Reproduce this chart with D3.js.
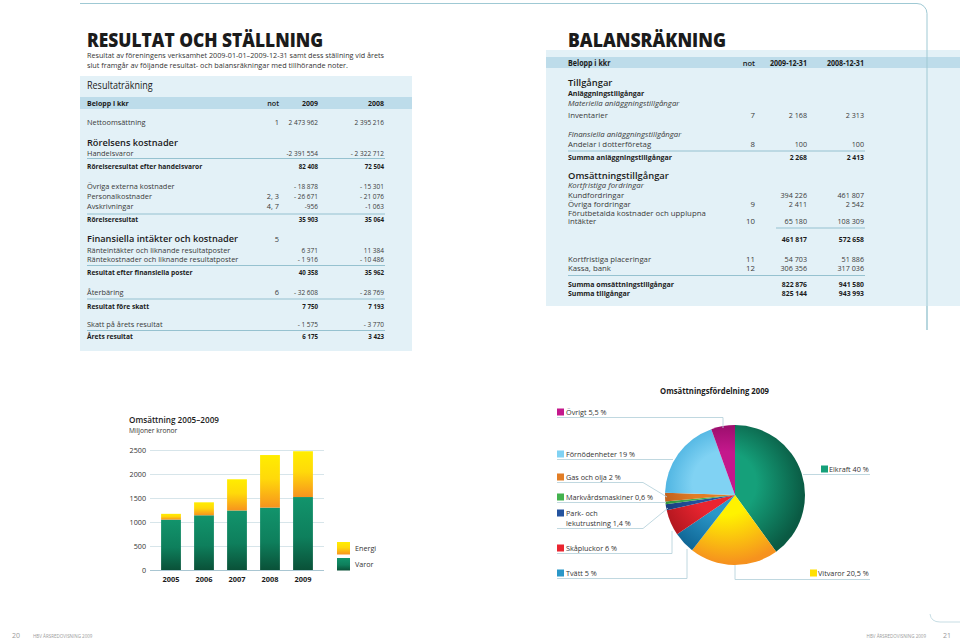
<!DOCTYPE html>
<html><head><meta charset="utf-8">
<script src="https://cdn.jsdelivr.net/npm/d3@7"></script>
<style>
html,body{margin:0;padding:0;background:#fff;}
svg{display:block;font-family:"Open Sans",sans-serif;}
</style></head>
<body>
<svg id="c" width="960" height="644"></svg>
<script>
// ---------- DATA ----------
const resultRows = [
  ["Nettoomsättning","1","2 473 962","2 395 216","n"],
  ["Rörelsens kostnader","","","","h"],
  ["Handelsvaror","","-2 391 554","- 2 322 712","n"],
  ["Rörelseresultat efter handelsvaror","","82 408","72 504","b"],
  ["Övriga externa kostnader","","- 18 878","- 15 301","n"],
  ["Personalkostnader","2, 3","- 26 671","- 21 076","n"],
  ["Avskrivningar","4, 7","-956","-1 063","n"],
  ["Rörelseresultat","","35 903","35 064","b"],
  ["Finansiella intäkter och kostnader","5","","","h"],
  ["Ränteintäkter och liknande resultatposter","","6 371","11 384","n"],
  ["Räntekostnader och liknande resultatposter","","- 1 916","- 10 486","n"],
  ["Resultat efter finansiella poster","","40 358","35 962","b"],
  ["Återbäring","6","- 32 608","- 28 769","n"],
  ["Resultat före skatt","","7 750","7 193","b"],
  ["Skatt på årets resultat","","- 1 575","- 3 770","n"],
  ["Årets resultat","","6 175","3 423","b"]
];
const balanceRows = [
  ["Tillgångar","","","","h"],
  ["Anläggningstillgångar","","","","b"],
  ["Materiella anläggningstillgångar","","","","i"],
  ["Inventarier","7","2 168","2 313","n"],
  ["Finansiella anläggningstillgångar","","","","i"],
  ["Andelar i dotterföretag","8","100","100","n"],
  ["Summa anläggningstillgångar","","2 268","2 413","b"],
  ["Omsättningstillgångar","","","","h"],
  ["Kortfristiga fordringar","","","","i"],
  ["Kundfordringar","","394 226","461 807","n"],
  ["Övriga fordringar","9","2 411","2 542","n"],
  ["Förutbetalda kostnader och upplupna","","","","n"],
  ["intäkter","10","65 180","108 309","n"],
  ["","","461 817","572 658","b"],
  ["Kortfristiga placeringar","11","54 703","51 886","n"],
  ["Kassa, bank","12","306 356","317 036","n"],
  ["Summa omsättningstillgångar","","822 876","941 580","b"],
  ["Summa tillgångar","","825 144","943 993","b"]
];
const years = ["2005","2006","2007","2008","2009"];
const varor = [1050, 1140, 1240, 1300, 1520];
const energi = [120, 270, 650, 1095, 954];
const yTicks = [0, 500, 1000, 1500, 2000, 2500];
const pieLabels = ["Elkraft 40 %","Vitvaror 20,5 %","Tvätt 5 %","Skåpluckor 6 %","Park- och|lekutrustning 1,4 %","Markvårdsmaskiner 0,6 %","Gas och olja 2 %","Förnödenheter 19 %","Övrigt 5,5 %"];
const pieShares = [40, 20.5, 5, 6, 1.4, 0.6, 2, 19, 5.5];
const pieLight = ["#15a07a","#fff200","#2a97c8","#ea2530","#24539f","#43b24e","#e27d25","#80d2f3","#c4188c"];
const pieDark  = ["#0a5a43","#f6921e","#0d6190","#a8141c","#163772","#2a8a37","#b4561a","#3aa8da","#86095c"];

// ---------- DRAW ----------
const svg = d3.select("#c");
const defs = svg.append("defs");
const lineCol = "#8dbccb";
function fit(sel, f){
  if(f===1) return sel;
  const w = sel.node().getComputedTextLength();
  return sel.attr("textLength", w*f).attr("lengthAdjust","spacingAndGlyphs");
}

svg.append("path").attr("d","M80,3.5 H917 A10,10 0 0 1 927,13.5 V330")
  .attr("fill","none").attr("stroke","#9fc9d4").attr("stroke-width",1);

// Titles
svg.append("text").attr("x",87).attr("y",47).attr("font-size",19.5).attr("font-weight",800)
  .attr("fill","#1b1b1b").attr("textLength",236).attr("lengthAdjust","spacingAndGlyphs").text("RESULTAT OCH STÄLLNING");
svg.append("text").attr("x",87).attr("y",57.5).attr("font-size",7.8).attr("fill","#333")
  .attr("textLength",297).attr("lengthAdjust","spacingAndGlyphs")
  .text("Resultat av föreningens verksamhet 2009-01-01–2009-12-31 samt dess ställning vid årets");
svg.append("text").attr("x",87).attr("y",67.5).attr("font-size",7.8).attr("fill","#333")
  .attr("textLength",261).attr("lengthAdjust","spacingAndGlyphs")
  .text("slut framgår av följande resultat- och balansräkningar med tillhörande noter.");

// Left box
svg.append("rect").attr("x",80).attr("y",76).attr("width",332).attr("height",275).attr("fill","#e3f1f7");
fit(svg.append("text").attr("x",87).attr("y",89).attr("font-size",10).attr("fill","#222").text("Resultaträkning"),0.9);
svg.append("rect").attr("x",80).attr("y",97).attr("width",332).attr("height",12).attr("fill","#bddcea");
const lh = svg.append("g").attr("font-size",7.6).attr("font-weight",700).attr("fill","#1b1b1b");
fit(lh.append("text").attr("x",87).attr("y",106).text("Belopp i kkr"),0.92);
fit(lh.append("text").attr("x",279).attr("y",106).attr("text-anchor","end").attr("font-weight",600).text("not"),0.95);
fit(lh.append("text").attr("x",318).attr("y",106).attr("text-anchor","end").text("2009"),0.92);
fit(lh.append("text").attr("x",384).attr("y",106).attr("text-anchor","end").text("2008"),0.92);

const resultY = [125,145.5,155.5,169,189,199,209,222,241.5,253,262,275,295,309,327,339];
const resultLines = [158.5,214,265.5,299,330.5];
function drawRows(rows, ys, cols, fs, hs, numF){
  const g = svg.append("g");
  rows.forEach((r,i)=>{
    const t = r[4];
    const size = t==="h" ? hs : fs;
    const weight = t==="h" ? 600 : (t==="b" ? 700 : 400);
    const fill = (t==="h"||t==="b") ? "#1b1b1b" : "#3a3a3a";
    const style = t==="i" ? "italic" : "normal";
    const lf = t==="b" ? 0.9 : 1;
    const row = g.append("g").attr("font-size",size).attr("font-weight",weight).attr("fill",fill).attr("font-style",style);
    if(r[0]) fit(row.append("text").attr("x",cols[0]).attr("y",ys[i]).text(r[0]), lf);
    if(r[1]) row.append("text").attr("x",cols[1]).attr("y",ys[i]).attr("text-anchor","end").attr("font-weight",400).attr("fill","#3a3a3a").attr("font-size",fs).text(r[1]);
    if(r[2]) fit(row.append("text").attr("x",cols[2]).attr("y",ys[i]).attr("text-anchor","end").text(r[2]), numF*(t==="b"?0.95:1));
    if(r[3]) fit(row.append("text").attr("x",cols[3]).attr("y",ys[i]).attr("text-anchor","end").text(r[3]), numF*(t==="b"?0.95:1));
  });
}
drawRows(resultRows, resultY, [87,279,318,384], 7.4, 9.2, 0.88);
resultLines.forEach(y=>svg.append("line").attr("x1",87).attr("x2",385).attr("y1",y).attr("y2",y).attr("stroke",lineCol).attr("stroke-width",0.9));

// Right page
svg.append("text").attr("x",568).attr("y",47).attr("font-size",19.5).attr("font-weight",800)
  .attr("fill","#1b1b1b").attr("textLength",158).attr("lengthAdjust","spacingAndGlyphs").text("BALANSRÄKNING");
svg.append("rect").attr("x",546).attr("y",50).attr("width",414).attr("height",256).attr("fill","#e3f1f7");
svg.append("rect").attr("x",546).attr("y",57).attr("width",414).attr("height",11).attr("fill","#bddcea");
svg.append("line").attr("x1",927).attr("x2",927).attr("y1",50).attr("y2",330).attr("stroke","#9fc9d4").attr("stroke-width",1);
const rh = svg.append("g").attr("font-size",7.9).attr("font-weight",700).attr("fill","#1b1b1b");
fit(rh.append("text").attr("x",568).attr("y",66).text("Belopp i kkr"),0.9);
fit(rh.append("text").attr("x",755).attr("y",66).attr("text-anchor","end").attr("font-weight",600).text("not"),0.95);
fit(rh.append("text").attr("x",807).attr("y",66).attr("text-anchor","end").text("2009-12-31"),0.9);
fit(rh.append("text").attr("x",864).attr("y",66).attr("text-anchor","end").text("2008-12-31"),0.9);
const balanceY = [86,96,106,118,137,147,160,178.5,188,197.5,206.5,215.5,224,242,262,271,286.5,295.5];
drawRows(balanceRows, balanceY, [568,755,807,864], 7.8, 9.4, 0.92);
svg.append("line").attr("x1",568).attr("x2",865).attr("y1",151).attr("y2",151).attr("stroke",lineCol).attr("stroke-width",0.9);
svg.append("line").attr("x1",776).attr("x2",865).attr("y1",228).attr("y2",228).attr("stroke",lineCol).attr("stroke-width",0.9);
svg.append("line").attr("x1",568).attr("x2",865).attr("y1",275.5).attr("y2",275.5).attr("stroke",lineCol).attr("stroke-width",0.9);

// ---------- BAR CHART ----------
svg.append("text").attr("x",129).attr("y",422.5).attr("font-size",9.6).attr("font-weight",600).attr("fill","#1b1b1b")
  .attr("textLength",90).attr("lengthAdjust","spacingAndGlyphs").text("Omsättning 2005–2009");
fit(svg.append("text").attr("x",129).attr("y",433).attr("font-size",7.4).attr("fill","#333").text("Miljoner kronor"),0.9);

const x = d3.scaleBand().domain(years).range([154.5,319.5]).paddingInner(0.4).paddingOuter(0.2);
const y = d3.scaleLinear().domain([0,2500]).range([570,450]);

const ge = defs.append("linearGradient").attr("id","gEn").attr("x1",0).attr("y1",0).attr("x2",0).attr("y2",1);
ge.append("stop").attr("offset","0").attr("stop-color","#ffed00");
ge.append("stop").attr("offset","0.45").attr("stop-color","#ffd90a");
ge.append("stop").attr("offset","1").attr("stop-color","#f7931e");
const gv = defs.append("linearGradient").attr("id","gVa").attr("x1",0).attr("y1",0).attr("x2",0).attr("y2",1);
gv.append("stop").attr("offset","0").attr("stop-color","#12946c");
gv.append("stop").attr("offset","0.55").attr("stop-color","#0e7f5c");
gv.append("stop").attr("offset","1").attr("stop-color","#0a5138");

svg.append("g").selectAll("line").data(yTicks).join("line")
  .attr("x1",150).attr("x2",324).attr("y1",d=>y(d)+0.5).attr("y2",d=>y(d)+0.5)
  .attr("stroke",d=>d===0?"#a9c6d2":"#d3e2e8").attr("stroke-width",d=>d===0?1.2:0.9);
const yAxis = svg.append("g").attr("transform","translate(146,0)")
  .call(d3.axisLeft(y).tickValues(yTicks).tickSize(0).tickPadding(0).tickFormat(d3.format("d")));
yAxis.select(".domain").remove();
yAxis.selectAll("text").attr("font-family","Open Sans, sans-serif").attr("font-size",7.2).attr("fill","#333");

const bars = svg.append("g");
bars.selectAll("rect.v").data(years).join("rect").attr("class","v")
  .attr("x",d=>x(d)).attr("width",x.bandwidth())
  .attr("y",(d,i)=>y(varor[i])).attr("height",(d,i)=>y(0)-y(varor[i])).attr("fill","url(#gVa)");
bars.selectAll("rect.e").data(years).join("rect").attr("class","e")
  .attr("x",d=>x(d)).attr("width",x.bandwidth())
  .attr("y",(d,i)=>y(varor[i]+energi[i])).attr("height",(d,i)=>y(varor[i])-y(varor[i]+energi[i])).attr("fill","url(#gEn)");

const xAxis = svg.append("g").attr("transform","translate(0,577)")
  .call(d3.axisBottom(x).tickSize(0).tickPadding(0));
xAxis.select(".domain").remove();
xAxis.selectAll("text").attr("font-family","Open Sans, sans-serif").attr("font-size",7.4).attr("font-weight",700).attr("fill","#1b1b1b");

const leg = svg.append("g");
[["Energi","url(#gEn)",542],["Varor","url(#gVa)",558]].forEach(l=>{
  leg.append("rect").attr("x",337).attr("y",l[2]).attr("width",13).attr("height",12.5).attr("fill",l[1]);
  leg.append("text").attr("x",355).attr("y",l[2]+9).attr("font-size",7.2).attr("fill","#333").text(l[0]);
});

// ---------- PIE ----------
svg.append("text").attr("x",660).attr("y",393.5).attr("font-size",8.6).attr("font-weight",700).attr("fill","#1b1b1b")
  .attr("textLength",109).attr("lengthAdjust","spacingAndGlyphs").text("Omsättningsfördelning 2009");
const cx = 735, cy = 495, R = 70;
pieShares.forEach((s,i)=>{
  const g = defs.append("radialGradient").attr("id","pg"+i).attr("gradientUnits","userSpaceOnUse")
    .attr("cx",-6).attr("cy",-8).attr("r",R+6).attr("fx",-14).attr("fy",-14);
  g.append("stop").attr("offset","0").attr("stop-color",pieLight[i]);
  g.append("stop").attr("offset","0.42").attr("stop-color",pieLight[i]);
  g.append("stop").attr("offset","1").attr("stop-color",pieDark[i]);
});
const pie = d3.pie().sort(null).value(d=>d).startAngle(0).endAngle(2*Math.PI);
const arc = d3.arc().innerRadius(0).outerRadius(R);
svg.append("g").attr("transform",`translate(${cx},${cy})`)
  .selectAll("path").data(pie(pieShares)).join("path")
  .attr("d",arc).attr("fill",(d,i)=>"url(#pg"+i+")");

const pieLayout = [
  {sx:821, tx:829, ty:469, path:"M803,474.5 H870"},
  {sx:810, tx:818, ty:573, path:"M735,565 V579.5 H870"},
  {sx:557, tx:566, ty:573, path:"M557,578.5 H687 V549"},
  {sx:557, tx:566, ty:548, path:"M557,553.5 H672 V531"},
  {sx:557, tx:566, ty:513, path:"M557,528.5 H643 L668,508"},
  {sx:557, tx:566, ty:497, path:"M557,502.5 H666"},
  {sx:557, tx:566, ty:477, path:"M557,482.5 H643 L667,497"},
  {sx:557, tx:566, ty:454, path:"M557,459.5 H673"},
  {sx:557, tx:566, ty:412, path:"M557,417.5 H723 V428"}
];
const pl = svg.append("g");
pieLabels.forEach((lab,i)=>{
  const L = pieLayout[i];
  pl.append("path").attr("d",L.path).attr("fill","none").attr("stroke","#b9d4dd").attr("stroke-width",0.9);
  pl.append("rect").attr("x",L.sx).attr("y",L.ty-3.5).attr("width",7).attr("height",7).attr("fill",i===1?"#ffe000":pieLight[i]);
  lab.split("|").forEach((p,k)=>{
    fit(pl.append("text").attr("x",L.tx).attr("y",L.ty+3+k*10).attr("font-size",7.8).attr("fill","#333").text(p),0.93);
  });
});

// ---------- FOOTER ----------
svg.append("path").attr("d","M930,614 Q931,622 940,622 H960").attr("fill","none").attr("stroke","#b9d4dd").attr("stroke-width",0.8);
const ft = svg.append("g").attr("fill","#9a9a9a");
ft.append("text").attr("x",12).attr("y",638).attr("font-size",7).text("20");
ft.append("text").attr("x",33).attr("y",638).attr("font-size",4.5).text("HBV ÅRSREDOVISNING 2009");
ft.append("text").attr("x",926).attr("y",638).attr("font-size",4.5).attr("text-anchor","end").text("HBV ÅRSREDOVISNING 2009");
ft.append("text").attr("x",943).attr("y",638).attr("font-size",7).text("21");
</script>
</body></html>
